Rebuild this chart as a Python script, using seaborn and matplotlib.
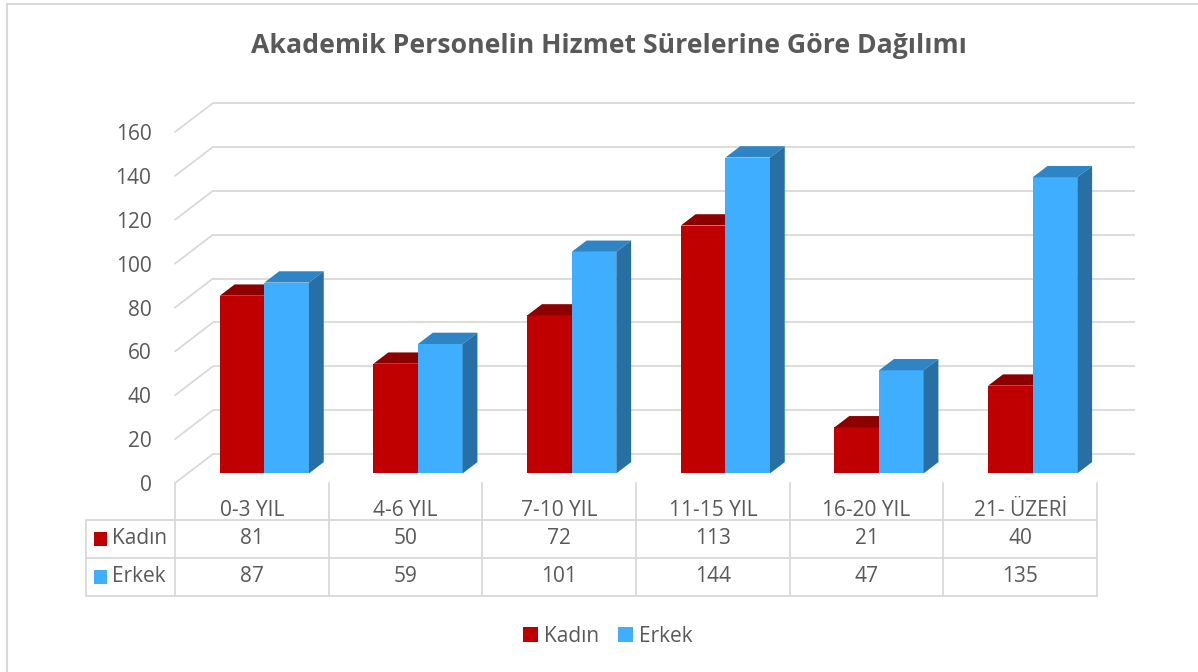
import matplotlib
matplotlib.use("Agg")
import matplotlib.pyplot as plt
from matplotlib.patches import Polygon, Rectangle, Patch
import pandas as pd
import seaborn as sns

# veriler
kategoriler = ['0-3 YIL', '4-6 YIL', '7-10 YIL', '11-15 YIL', '16-20 YIL', '21- ÜZERİ']
seriler = ['Kadın', 'Erkek']
kadin = [81, 50, 72, 113, 21, 40]
erkek = [87, 59, 101, 144, 47, 135]
y_ticks = [0, 20, 40, 60, 80, 100, 120, 140, 160]

df = pd.DataFrame({
    'sure': kategoriler * 2,
    'cinsiyet': ['Kadın'] * 6 + ['Erkek'] * 6,
    'sayi': kadin + erkek,
})

renk_on = {'Kadın': '#C00000', 'Erkek': '#40AEFF'}
renk_ust = {'Kadın': '#8C0000', 'Erkek': '#2F84C4'}
renk_yan = {'Kadın': '#7A0000', 'Erkek': '#286FA5'}
gri = '#595959'
izgara = '#D9D9D9'

sns.set_theme(style='white')
plt.rcParams['font.family'] = ['Open Sans', 'DejaVu Sans']

W, H = 1198, 672
fig = plt.figure(figsize=(W / 100, H / 100), dpi=100)
# on duzlem: x 175..1097 px, y 0 -> 483 px, 160 -> 132 px
ax = fig.add_axes([175 / W, (H - 483) / H, (1097 - 175) / W, (483 - 132) / H])

sns.barplot(data=df, x='sure', y='sayi', hue='cinsiyet', hue_order=seriler,
            palette=renk_on, saturation=1, width=0.58, linewidth=0,
            legend=False, ax=ax)
ax.set_xlim(-0.5, 5.5)
ax.set_ylim(0, 160)

# 3B goruntu icin derinlik kaymasi (veri birimi)
px_x = (1097 - 175) / 6
px_y = (483 - 132) / 160
dx, dy = 38 / px_x, 29 / px_y
f1, f2 = 0.33, 0.72

# arka duvar ve yan duvar cizgileri
for v in y_ticks:
    ax.plot([-0.5 + dx, 5.5 + dx], [v + dy, v + dy], color=izgara, lw=1.3,
            zorder=0, clip_on=False, solid_capstyle='butt')
    ax.plot([-0.5, -0.5 + dx], [v, v + dy], color=izgara, lw=1.3,
            zorder=0, clip_on=False)

# cubuklari derinlige tasi, ust ve yan yuzleri ekle
for seri, cont in zip(seriler, ax.containers):
    z = 2 if seri == 'Kadın' else 3
    for bar in cont:
        x0, w, h = bar.get_x(), bar.get_width(), bar.get_height()
        x = x0 + f1 * dx
        y = f1 * dy
        bar.set_x(x)
        bar.set_y(y)
        bar.set_zorder(z)
        bar.set_clip_on(False)
        ddx, ddy = (f2 - f1) * dx, (f2 - f1) * dy
        ust = Polygon([(x, y + h), (x + w, y + h), (x + w + ddx, y + h + ddy),
                       (x + ddx, y + h + ddy)], closed=True,
                      fc=renk_ust[seri], ec='none', zorder=z, clip_on=False)
        yan = Polygon([(x + w, y), (x + w + ddx, y + ddy), (x + w + ddx, y + h + ddy),
                       (x + w, y + h)], closed=True,
                      fc=renk_yan[seri], ec='none', zorder=z, clip_on=False)
        ax.add_patch(ust)
        ax.add_patch(yan)

for s in ax.spines.values():
    s.set_visible(False)
ax.set_yticks(y_ticks)
ax.set_yticklabels([str(t) for t in y_ticks])
ax.tick_params(axis='y', length=0, pad=17, labelsize=15, labelcolor=gri)
ax.tick_params(axis='x', length=0, pad=12, labelsize=15, labelcolor=gri)
ax.set_xlabel('')
ax.set_ylabel('')

# veri tablosu
def v_of(py):
    return (483 - py) / px_y

x_sol = (86 - 175) / px_x - 0.5
for k in range(7):
    ax.plot([-0.5 + k, -0.5 + k], [0, v_of(596)], color=izgara, lw=1.3, clip_on=False)
for py in [520, 558, 596]:
    ax.plot([x_sol, 5.5], [v_of(py), v_of(py)], color=izgara, lw=1.3, clip_on=False)
ax.plot([x_sol, x_sol], [v_of(520), v_of(596)], color=izgara, lw=1.3, clip_on=False)

for seri, degerler, py in [('Kadın', kadin, 539), ('Erkek', erkek, 577)]:
    for i, d in enumerate(degerler):
        ax.text(i, v_of(py), str(d), ha='center', va='center', fontsize=15,
                color=gri, clip_on=False)
    ax.add_patch(Rectangle(((94 - 175) / px_x - 0.5, v_of(py + 7)), 13 / px_x, 14 / px_y,
                           fc=renk_on[seri], ec='none', clip_on=False))
    ax.text((112 - 175) / px_x - 0.5, v_of(py), seri, ha='left', va='center',
            fontsize=15, color=gri, clip_on=False)

# gosterge
handles = [Patch(fc=renk_on[s], ec='none', label=s) for s in seriler]
fig.legend(handles=handles, loc='center', bbox_to_anchor=(608 / W, 1 - 636 / H),
           ncol=2, frameon=False, fontsize=15, handlelength=0.7, handleheight=0.7,
           handletextpad=0.3, columnspacing=0.9, labelcolor=gri)

fig.text(609 / W, 1 - 46 / H, 'Akademik Personelin Hizmet Sürelerine Göre Dağılımı',
         ha='center', va='center', fontsize=19.2, fontweight='bold', color=gri)

# dis cerceve
fig.patches.append(Rectangle((7 / W, -0.1), 1.2, (H - 4) / H + 0.1,
                             transform=fig.transFigure, fill=False, ec=izgara, lw=1.5))

fig.savefig('out.png', dpi=100)
